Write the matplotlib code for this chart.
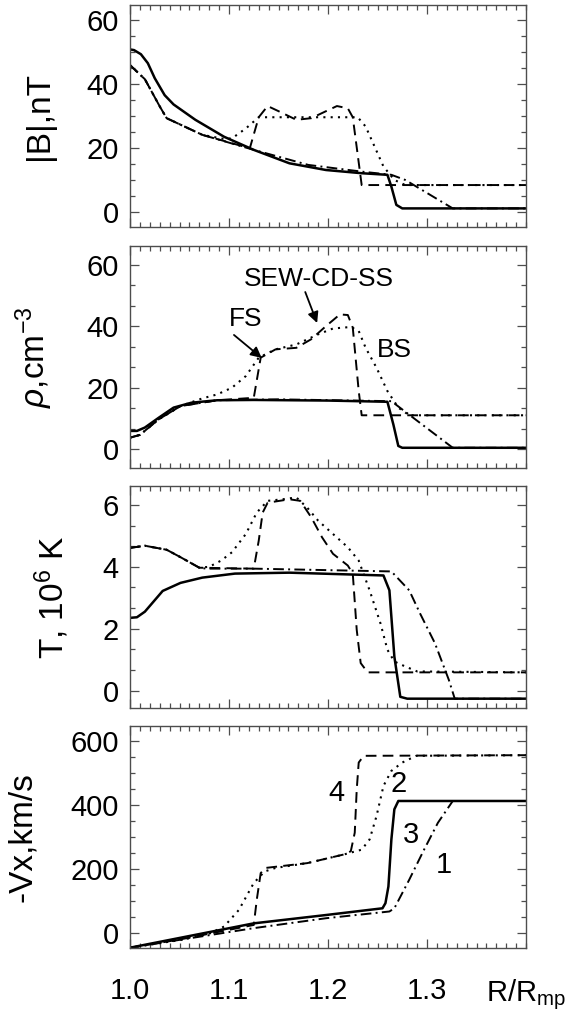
import numpy as np
import matplotlib
matplotlib.use('Agg')
import matplotlib.pyplot as plt
from matplotlib.ticker import MultipleLocator

# Radial profiles across the magnetosheath for 4 runs
# curve 1: dash-dot, 2: dotted, 3: solid, 4: dashed

# |B|, nT
r_b1 = [1.0, 1.015, 1.03, 1.037, 1.073, 1.125, 1.18, 1.234, 1.264, 1.278, 1.326, 1.4]
b1 = [45.9, 41.5, 33.0, 29.3, 24.1, 19.4, 14.7, 12.6, 11.6, 10.0, 1.1, 1.1]
r_b2 = [1.0, 1.015, 1.03, 1.037, 1.073, 1.095, 1.103, 1.117, 1.13, 1.23, 1.238, 1.256, 1.267, 1.278, 1.4]
b2 = [45.9, 41.5, 33.0, 29.3, 24.1, 22.8, 23.0, 26.1, 29.6, 29.6, 26.7, 14.2, 10.0, 8.4, 8.4]
r_b3 = [1.0, 1.004, 1.011, 1.018, 1.025, 1.035, 1.044, 1.066, 1.095, 1.125, 1.161, 1.198, 1.234,
        1.26, 1.264, 1.269, 1.275, 1.4]
b3 = [50.8, 50.6, 49.3, 46.5, 41.8, 36.5, 33.6, 28.8, 23.5, 19.4, 15.2, 13.1, 12.1,
      11.6, 7.9, 2.2, 1.1, 1.1]
r_b4 = [1.0, 1.015, 1.03, 1.037, 1.073, 1.121, 1.13, 1.139, 1.15, 1.168, 1.183, 1.198, 1.209, 1.22, 1.225, 1.234, 1.4]
b4 = [45.9, 41.5, 33.0, 29.3, 24.1, 19.9, 29.6, 33.1, 31.5, 28.8, 29.3, 31.5, 33.1, 32.4, 29.6, 8.4, 8.4]

# rho, cm^-3
r_n1 = [1.0, 1.01, 1.029, 1.051, 1.088, 1.15, 1.264, 1.326, 1.4]
n1 = [3.7, 4.6, 9.7, 14.0, 15.9, 16.2, 15.6, 0.4, 0.4]
r_n2 = [1.0, 1.01, 1.029, 1.051, 1.073, 1.088, 1.103, 1.117, 1.13, 1.147, 1.168, 1.19, 1.205,
        1.223, 1.231, 1.238, 1.249, 1.26, 1.271, 1.282, 1.4]
n2 = [3.7, 4.6, 9.7, 14.0, 16.5, 17.8, 20.0, 23.8, 29.8, 32.5, 34.1, 37.4, 39.3,
      39.8, 38.5, 33.0, 26.5, 18.9, 13.5, 11.0, 11.0]
r_n3 = [1.0, 1.007, 1.015, 1.029, 1.044, 1.062, 1.088, 1.125, 1.2, 1.26, 1.266, 1.271, 1.275, 1.4]
n3 = [5.9, 5.9, 7.0, 10.2, 13.5, 15.1, 15.9, 16.0, 15.8, 15.4, 8.0, 1.0, 0.4, 0.4]
r_n4 = [1.0, 1.01, 1.029, 1.051, 1.088, 1.125, 1.132, 1.147, 1.168, 1.183, 1.198, 1.212, 1.22,
        1.225, 1.231, 1.234, 1.4]
n4 = [3.7, 4.6, 9.7, 14.0, 15.9, 16.7, 29.8, 32.5, 33.0, 35.8, 40.1, 43.9, 43.7,
      39.6, 18.9, 11.0, 11.0]

# T, 10^6 K
r_t1 = [1.0, 1.015, 1.037, 1.051, 1.07, 1.077, 1.125, 1.264, 1.282, 1.293, 1.308, 1.322, 1.328, 1.4]
t1 = [4.61, 4.68, 4.55, 4.31, 3.97, 3.94, 3.94, 3.85, 3.24, 2.49, 1.53, 0.35, -0.26, -0.26]
r_t2 = [1.0, 1.015, 1.037, 1.051, 1.07, 1.08, 1.092, 1.103, 1.117, 1.128, 1.139, 1.154, 1.168,
        1.179, 1.19, 1.205, 1.22, 1.231, 1.242, 1.253, 1.26, 1.267, 1.278, 1.29, 1.4]
t2 = [4.61, 4.68, 4.55, 4.31, 3.97, 4.0, 4.2, 4.47, 5.06, 5.75, 6.13, 6.18, 6.24,
      5.91, 5.49, 5.06, 4.63, 4.2, 3.24, 2.17, 1.32, 0.94, 0.78, 0.62, 0.59]
r_t3 = [1.0, 1.007, 1.015, 1.022, 1.033, 1.051, 1.073, 1.106, 1.161, 1.256, 1.262, 1.267, 1.273, 1.28, 1.4]
t3 = [2.35, 2.37, 2.55, 2.81, 3.22, 3.48, 3.65, 3.78, 3.81, 3.72, 3.24, 1.1, -0.2, -0.26, -0.26]
r_t4 = [1.0, 1.015, 1.037, 1.051, 1.07, 1.125, 1.13, 1.134, 1.139, 1.161, 1.172, 1.183, 1.194,
        1.205, 1.22, 1.225, 1.229, 1.233, 1.24, 1.4]
t4 = [4.61, 4.68, 4.55, 4.31, 3.97, 3.94, 4.84, 5.75, 6.07, 6.18, 6.13, 5.6, 4.95,
      4.42, 4.04, 3.78, 1.96, 0.89, 0.59, 0.59]

# -Vx, km/s
r_v1 = [1.0, 1.125, 1.198, 1.262, 1.267, 1.282, 1.297, 1.311, 1.326, 1.4]
v1 = [-46, 15, 46, 67, 77, 166, 260, 344, 412, 412]
r_v2 = [1.0, 1.051, 1.081, 1.095, 1.11, 1.125, 1.136, 1.147, 1.179, 1.216, 1.234, 1.242, 1.249,
        1.256, 1.264, 1.275, 1.289, 1.4]
v2 = [-46, -22, -1, 20, 72, 156, 192, 203, 218, 245, 260, 292, 365, 459, 506, 532, 553, 555]
r_v3 = [1.0, 1.125, 1.198, 1.255, 1.258, 1.261, 1.264, 1.267, 1.271, 1.4]
v3 = [-46, 30, 56, 77, 93, 145, 292, 386, 412, 412]
r_v4 = [1.0, 1.051, 1.125, 1.128, 1.132, 1.137, 1.179, 1.216, 1.223, 1.227, 1.229, 1.231, 1.236, 1.4]
v4 = [-46, -20, 25, 103, 187, 203, 218, 245, 255, 313, 448, 532, 553, 555]

ylabels = ['|B|,nT', r'$\rho$,cm$^{-3}$', r'T, 10$^6$ K', '-Vx,km/s']
yticks = [[0, 20, 40, 60], [0, 20, 40, 60], [0, 2, 4, 6], [0, 200, 400, 600]]
ylims = [(-4.7, 64.7), (-6.2, 66.2), (-0.56, 6.61), (-47, 646)]
yminor = [5, 20 / 3, 2 / 3, 50]
xticks = [1.0, 1.1, 1.2, 1.3]

plt.rcParams['font.family'] = ['Liberation Sans', 'DejaVu Sans']
plt.rcParams['mathtext.fontset'] = 'custom'
plt.rcParams['mathtext.rm'] = 'Liberation Sans'
plt.rcParams['mathtext.it'] = 'Liberation Sans:italic'
plt.rcParams['mathtext.bf'] = 'Liberation Sans:bold'

styles = {
    1: dict(color='black', lw=1.4, linestyle=(0, (5.5, 2.2, 1, 2.2))),
    2: dict(color='black', lw=1.5, linestyle=(0, (1, 2.5))),
    3: dict(color='black', lw=1.8, linestyle='-'),
    4: dict(color='black', lw=1.4, linestyle=(0, (5.5, 3.2))),
}

panels = [
    [(r_b1, b1), (r_b2, b2), (r_b3, b3), (r_b4, b4)],
    [(r_n1, n1), (r_n2, n2), (r_n3, n3), (r_n4, n4)],
    [(r_t1, t1), (r_t2, t2), (r_t3, t3), (r_t4, t4)],
    [(r_v1, v1), (r_v2, v2), (r_v3, v3), (r_v4, v4)],
]

fig = plt.figure(figsize=(5.68, 10.15), dpi=100)
bottoms = [0.7764, 0.5389, 0.3025, 0.0660]
axes = []
for i in range(4):
    ax = fig.add_axes([0.2289, bottoms[i], 0.6972, 0.2187])
    for k, (r, y) in enumerate(panels[i]):
        ax.plot(r, y, **styles[k + 1])
    ax.set_xlim(1.0, 1.4)
    ax.set_ylim(*ylims[i])
    ax.set_yticks(yticks[i])
    ax.set_xticks(xticks)
    ax.xaxis.set_minor_locator(MultipleLocator(0.01))
    ax.yaxis.set_minor_locator(MultipleLocator(yminor[i]))
    ax.tick_params(which='both', direction='in', top=True, right=True,
                   color='0.3', width=0.9)
    ax.tick_params(which='major', length=6.5, labelsize=21)
    ax.tick_params(which='minor', length=3.5)
    ax.tick_params(axis='y', pad=8)
    ax.tick_params(axis='x', pad=21)
    for s in ax.spines.values():
        s.set_color('0.3')
        s.set_linewidth(1.0)
    ax.set_ylabel(ylabels[i], fontsize=24, labelpad=23)
    if i < 3:
        ax.set_xticklabels([])
    else:
        ax.set_xticklabels(['%.1f' % x for x in xticks])
    axes.append(ax)

# annotations on density panel
ax = axes[1]
arrow = dict(arrowstyle='-|>', color='black', lw=1.3, mutation_scale=16,
             shrinkA=0, shrinkB=0)
ax.text(1.117, 42.3, 'FS', fontsize=19, ha='center', va='center')
ax.annotate('', xy=(1.133, 29.7), xytext=(1.105, 37.2), arrowprops=arrow)
ax.text(1.191, 55.5, 'SEW-CD-SS', fontsize=19, ha='center', va='center')
ax.annotate('', xy=(1.189, 41.1), xytext=(1.177, 51.2), arrowprops=arrow)
ax.text(1.267, 32.2, 'BS', fontsize=19, ha='center', va='center')

# curve numbers on velocity panel
ax = axes[3]
ax.text(1.209, 438, '4', fontsize=21, ha='center', va='center')
ax.text(1.271, 464, '2', fontsize=21, ha='center', va='center')
ax.text(1.284, 307, '3', fontsize=21, ha='center', va='center')
ax.text(1.317, 213, '1', fontsize=21, ha='center', va='center')
ax.annotate(r'R/R$_{\mathrm{mp}}$', xy=(1.4, 0), xycoords=('data', 'axes fraction'),
            xytext=(0, -21), textcoords='offset points', ha='center', va='top',
            fontsize=21)

fig.savefig('out.png', dpi=100)
